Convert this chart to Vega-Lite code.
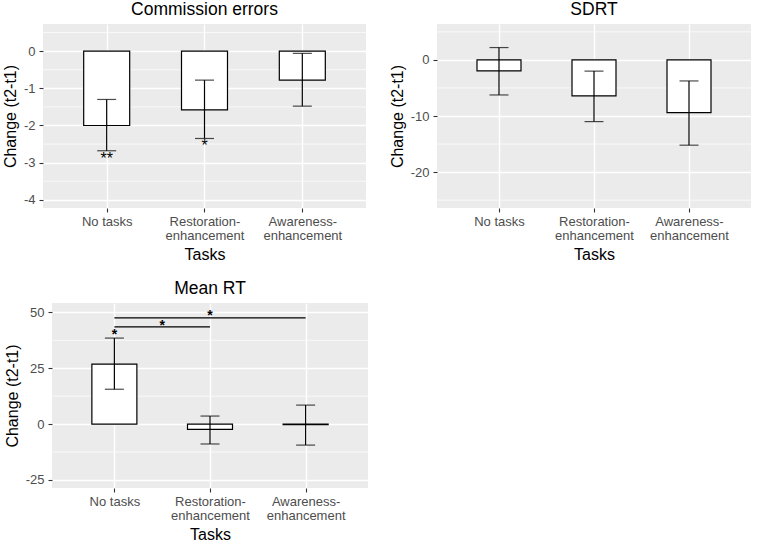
{
  "$schema": "https://vega.github.io/schema/vega-lite/v6.json",
  "padding": {"left": 1, "top": 0, "right": 0, "bottom": 0},
  "background": "white",
  "spacing": 17,
  "datasets": {
    "bars": [
      {"panel": "CE", "pos": 1, "mean": -2.0, "lo": -2.68, "hi": -1.3},
      {"panel": "CE", "pos": 2, "mean": -1.58, "lo": -2.35, "hi": -0.78},
      {"panel": "CE", "pos": 3, "mean": -0.78, "lo": -1.48, "hi": -0.06},
      {"panel": "SDRT", "pos": 1, "mean": -1.96, "lo": -6.25, "hi": 2.2},
      {"panel": "SDRT", "pos": 2, "mean": -6.4, "lo": -11.0, "hi": -2.0},
      {"panel": "SDRT", "pos": 3, "mean": -9.4, "lo": -15.2, "hi": -3.75},
      {"panel": "MRT", "pos": 1, "mean": 26.8, "lo": 15.6, "hi": 38.5},
      {"panel": "MRT", "pos": 2, "mean": -2.4, "lo": -8.9, "hi": 3.6},
      {"panel": "MRT", "pos": 3, "mean": -0.3, "lo": -9.4, "hi": 8.5}
    ],
    "minor": [
      {"panel": "CE", "v": 0.5}, {"panel": "CE", "v": -0.5}, {"panel": "CE", "v": -1.5}, {"panel": "CE", "v": -2.5}, {"panel": "CE", "v": -3.5},
      {"panel": "SDRT", "v": 5}, {"panel": "SDRT", "v": -5}, {"panel": "SDRT", "v": -15}, {"panel": "SDRT", "v": -25},
      {"panel": "MRT", "v": 37.5}, {"panel": "MRT", "v": 12.5}, {"panel": "MRT", "v": -12.5}
    ],
    "stars": [
      {"panel": "CE", "pos": 1, "y": -3.03, "label": "**"},
      {"panel": "CE", "pos": 2, "y": -2.7, "label": "*"},
      {"panel": "MRT", "pos": 1, "y": 38.3, "label": "*"},
      {"panel": "MRT", "pos": 1.5, "y": 42.3, "label": "*"},
      {"panel": "MRT", "pos": 2, "y": 46.4, "label": "*"}
    ],
    "sig": [
      {"panel": "MRT", "from": 1, "to": 2, "y": 43.5},
      {"panel": "MRT", "from": 1, "to": 3, "y": 47.5}
    ],
    "none": []
  },
  "vconcat": [
    {
      "spacing": 0,
      "hconcat": [
        {"width": 1, "height": 1, "data": {"name": "none"}, "mark": {"type": "point", "opacity": 0}, "view": {"fill": null, "stroke": null}},
        {
          "spacing": 22,
          "hconcat": [
            {
              "title": "Commission errors",
              "width": 323, "height": 184,
              "layer": [
                {"data": {"name": "minor"}, "transform": [{"filter": "datum.panel == 'CE'"}],
                 "mark": {"type": "rule", "color": "white", "strokeWidth": 0.7},
                 "encoding": {"y": {"field": "v", "type": "quantitative", "scale": {"domain": [-4.22, 0.73], "nice": false, "zero": false}, "axis": {"values": [-4, -3, -2, -1, 0], "labelExpr": "'' + datum.value", "title": "Change (t2-t1)"}}}},
                {"data": {"name": "bars"}, "transform": [{"filter": "datum.panel == 'CE'"}],
                 "mark": {"type": "bar", "fill": "white", "stroke": "black", "strokeWidth": 1.2, "width": 46},
                 "encoding": {
                   "x": {"field": "pos", "type": "quantitative", "scale": {"domain": [0.4, 3.6], "nice": false, "zero": false}, "axis": {"values": [1, 2, 3], "title": "Tasks", "labelExpr": "datum.value == 1 ? 'No tasks' : datum.value == 2 ? ['Restoration-', 'enhancement'] : ['Awareness-', 'enhancement']"}},
                   "y": {"field": "mean", "type": "quantitative", "scale": {"domain": [-4.22, 0.73], "nice": false, "zero": false}},
                   "y2": {"datum": 0}}},
                {"data": {"name": "bars"}, "transform": [{"filter": "datum.panel == 'CE'"}],
                 "mark": {"type": "rule", "color": "black", "strokeWidth": 1.2},
                 "encoding": {"x": {"field": "pos", "type": "quantitative", "scale": {"domain": [0.4, 3.6]}}, "y": {"field": "lo", "type": "quantitative", "scale": {"domain": [-4.22, 0.73]}}, "y2": {"field": "hi"}}},
                {"data": {"name": "bars"}, "transform": [{"filter": "datum.panel == 'CE'"}],
                 "mark": {"type": "tick", "orient": "horizontal", "color": "black", "size": 19, "thickness": 1.2},
                 "encoding": {"x": {"field": "pos", "type": "quantitative", "scale": {"domain": [0.4, 3.6]}}, "y": {"field": "lo", "type": "quantitative", "scale": {"domain": [-4.22, 0.73]}}}},
                {"data": {"name": "bars"}, "transform": [{"filter": "datum.panel == 'CE'"}],
                 "mark": {"type": "tick", "orient": "horizontal", "color": "black", "size": 19, "thickness": 1.2},
                 "encoding": {"x": {"field": "pos", "type": "quantitative", "scale": {"domain": [0.4, 3.6]}}, "y": {"field": "hi", "type": "quantitative", "scale": {"domain": [-4.22, 0.73]}}}},
                {"data": {"name": "stars"}, "transform": [{"filter": "datum.panel == 'CE'"}],
                 "mark": {"type": "text", "fontSize": 16, "baseline": "alphabetic", "align": "center", "color": "black"},
                 "encoding": {"x": {"field": "pos", "type": "quantitative", "scale": {"domain": [0.4, 3.6]}}, "y": {"field": "y", "type": "quantitative", "scale": {"domain": [-4.22, 0.73]}}, "text": {"field": "label"}}}
              ]
            },
            {
              "title": "SDRT",
              "width": 314, "height": 184,
              "layer": [
                {"data": {"name": "minor"}, "transform": [{"filter": "datum.panel == 'SDRT'"}],
                 "mark": {"type": "rule", "color": "white", "strokeWidth": 0.7},
                 "encoding": {"y": {"field": "v", "type": "quantitative", "scale": {"domain": [-26.4, 6.4], "nice": false, "zero": false}, "axis": {"values": [-20, -10, 0], "labelExpr": "'' + datum.value", "title": "Change (t2-t1)"}}}},
                {"data": {"name": "bars"}, "transform": [{"filter": "datum.panel == 'SDRT'"}],
                 "mark": {"type": "bar", "fill": "white", "stroke": "black", "strokeWidth": 1.2, "width": 44},
                 "encoding": {
                   "x": {"field": "pos", "type": "quantitative", "scale": {"domain": [0.4, 3.6], "nice": false, "zero": false}, "axis": {"values": [1, 2, 3], "title": "Tasks", "labelExpr": "datum.value == 1 ? 'No tasks' : datum.value == 2 ? ['Restoration-', 'enhancement'] : ['Awareness-', 'enhancement']"}},
                   "y": {"field": "mean", "type": "quantitative", "scale": {"domain": [-26.4, 6.4], "nice": false, "zero": false}},
                   "y2": {"datum": 0}}},
                {"data": {"name": "bars"}, "transform": [{"filter": "datum.panel == 'SDRT'"}],
                 "mark": {"type": "rule", "color": "black", "strokeWidth": 1.2},
                 "encoding": {"x": {"field": "pos", "type": "quantitative", "scale": {"domain": [0.4, 3.6]}}, "y": {"field": "lo", "type": "quantitative", "scale": {"domain": [-26.4, 6.4]}}, "y2": {"field": "hi"}}},
                {"data": {"name": "bars"}, "transform": [{"filter": "datum.panel == 'SDRT'"}],
                 "mark": {"type": "tick", "orient": "horizontal", "color": "black", "size": 19, "thickness": 1.2},
                 "encoding": {"x": {"field": "pos", "type": "quantitative", "scale": {"domain": [0.4, 3.6]}}, "y": {"field": "lo", "type": "quantitative", "scale": {"domain": [-26.4, 6.4]}}}},
                {"data": {"name": "bars"}, "transform": [{"filter": "datum.panel == 'SDRT'"}],
                 "mark": {"type": "tick", "orient": "horizontal", "color": "black", "size": 19, "thickness": 1.2},
                 "encoding": {"x": {"field": "pos", "type": "quantitative", "scale": {"domain": [0.4, 3.6]}}, "y": {"field": "hi", "type": "quantitative", "scale": {"domain": [-26.4, 6.4]}}}}
              ]
            }
          ]
        }
      ]
    },
    {
      "spacing": 2,
      "hconcat": [
        {"width": 1, "height": 1, "data": {"name": "none"}, "mark": {"type": "point", "opacity": 0}, "view": {"fill": null, "stroke": null}},
        {
          "title": "Mean RT",
          "width": 316, "height": 185,
          "layer": [
            {"data": {"name": "minor"}, "transform": [{"filter": "datum.panel == 'MRT'"}],
             "mark": {"type": "rule", "color": "white", "strokeWidth": 0.7},
             "encoding": {"y": {"field": "v", "type": "quantitative", "scale": {"domain": [-28.6, 54.2], "nice": false, "zero": false}, "axis": {"values": [-25, 0, 25, 50], "labelExpr": "'' + datum.value", "title": "Change (t2-t1)"}}}},
            {"data": {"name": "bars"}, "transform": [{"filter": "datum.panel == 'MRT'"}],
             "mark": {"type": "bar", "fill": "white", "stroke": "black", "strokeWidth": 1.2, "width": 45},
             "encoding": {
               "x": {"field": "pos", "type": "quantitative", "scale": {"domain": [0.4, 3.6], "nice": false, "zero": false}, "axis": {"values": [1, 2, 3], "title": "Tasks", "labelExpr": "datum.value == 1 ? 'No tasks' : datum.value == 2 ? ['Restoration-', 'enhancement'] : ['Awareness-', 'enhancement']"}},
               "y": {"field": "mean", "type": "quantitative", "scale": {"domain": [-28.6, 54.2], "nice": false, "zero": false}},
               "y2": {"datum": 0}}},
            {"data": {"name": "bars"}, "transform": [{"filter": "datum.panel == 'MRT'"}],
             "mark": {"type": "rule", "color": "black", "strokeWidth": 1.2},
             "encoding": {"x": {"field": "pos", "type": "quantitative", "scale": {"domain": [0.4, 3.6]}}, "y": {"field": "lo", "type": "quantitative", "scale": {"domain": [-28.6, 54.2]}}, "y2": {"field": "hi"}}},
            {"data": {"name": "bars"}, "transform": [{"filter": "datum.panel == 'MRT'"}],
             "mark": {"type": "tick", "orient": "horizontal", "color": "black", "size": 19, "thickness": 1.2},
             "encoding": {"x": {"field": "pos", "type": "quantitative", "scale": {"domain": [0.4, 3.6]}}, "y": {"field": "lo", "type": "quantitative", "scale": {"domain": [-28.6, 54.2]}}}},
            {"data": {"name": "bars"}, "transform": [{"filter": "datum.panel == 'MRT'"}],
             "mark": {"type": "tick", "orient": "horizontal", "color": "black", "size": 19, "thickness": 1.2},
             "encoding": {"x": {"field": "pos", "type": "quantitative", "scale": {"domain": [0.4, 3.6]}}, "y": {"field": "hi", "type": "quantitative", "scale": {"domain": [-28.6, 54.2]}}}},
            {"data": {"name": "sig"},
             "mark": {"type": "rule", "color": "black", "strokeWidth": 1.2},
             "encoding": {"x": {"field": "from", "type": "quantitative", "scale": {"domain": [0.4, 3.6]}}, "x2": {"field": "to"}, "y": {"field": "y", "type": "quantitative", "scale": {"domain": [-28.6, 54.2]}}}},
            {"data": {"name": "stars"}, "transform": [{"filter": "datum.panel == 'MRT'"}],
             "mark": {"type": "text", "fontSize": 14, "baseline": "alphabetic", "align": "center", "color": "black", "fontWeight": "bold"},
             "encoding": {"x": {"field": "pos", "type": "quantitative", "scale": {"domain": [0.4, 3.6]}}, "y": {"field": "y", "type": "quantitative", "scale": {"domain": [-28.6, 54.2]}}, "text": {"field": "label"}}}
          ]
        }
      ]
    }
  ],
  "config": {
    "font": "Liberation Sans",
    "view": {"fill": "#EBEBEB", "stroke": null},
    "axis": {
      "gridColor": "white", "gridWidth": 1.4, "domain": false,
      "tickColor": "#333333", "tickSize": 4, "tickWidth": 1.1,
      "labelColor": "#4D4D4D", "labelFontSize": 13, "labelPadding": 3,
      "titleColor": "black", "titleFontSize": 16, "titleFontWeight": "normal"
    },
    "axisY": {"titlePadding": 5, "labelPadding": 4},
    "axisX": {"titlePadding": 4, "labelLineHeight": 14},
    "title": {"fontSize": 17.5, "fontWeight": "normal", "color": "black", "anchor": "middle", "offset": 6}
  }
}
